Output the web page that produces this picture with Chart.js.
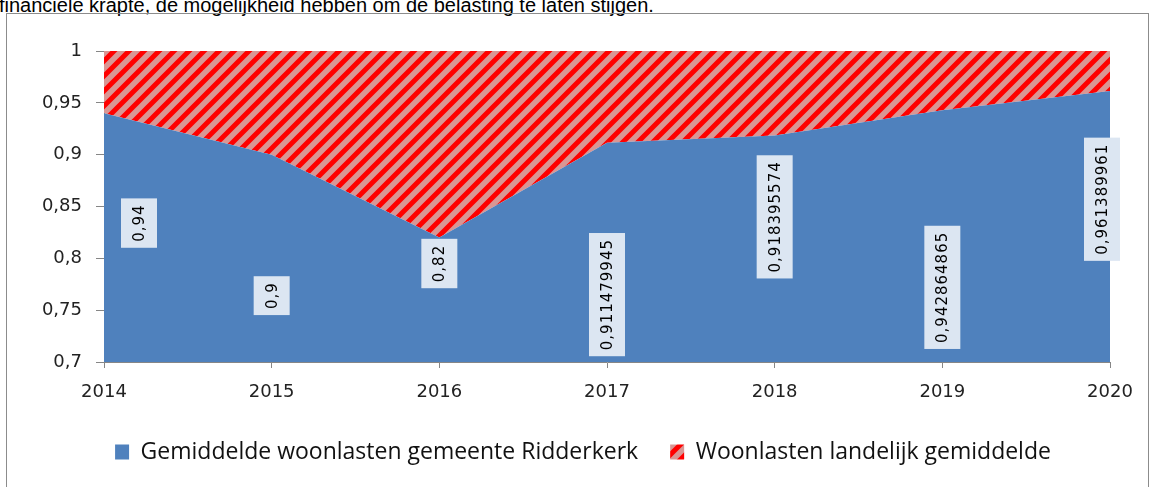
<!DOCTYPE html>
<html>
<head>
<meta charset="utf-8">
<script src="https://cdn.jsdelivr.net/npm/chart.js@4"></script>
<style>
  body { margin: 0; background: #fff; overflow: hidden; }
  #intro { position: absolute; left: -1px; top: -5px; font: 20px "Liberation Sans", Arial, sans-serif; line-height: 20px; white-space: nowrap; color: #000; }
  #frame { position: absolute; left: 6px; top: 13px; width: 1141px; height: 520px; border: 1px solid #8c8c8c; }
  #wrap { position: absolute; left: 0; top: 0; width: 1151px; height: 487px; }
</style>
</head>
<body>
<div id="intro">financiele krapte, de mogelijkheid hebben om de belasting te laten stijgen.</div>
<div id="frame"></div>
<div id="wrap"><canvas id="chart" width="1151" height="487"></canvas></div>
<script>
// data
var years = ['2014', '2015', '2016', '2017', '2018', '2019', '2020'];
var ridderkerk = [0.94, 0.9, 0.82, 0.911479945, 0.918395574, 0.942864865, 0.961389961];
var landelijk = [0.06, 0.1, 0.18, 0.088520055, 0.081604426, 0.057135135, 0.038610039];
var seriesNames = ['Gemiddelde woonlasten gemeente Ridderkerk', 'Woonlasten landelijk gemiddelde'];
var yTicks = [0.7, 0.75, 0.8, 0.85, 0.9, 0.95, 1];

function fmt(v) {
  return String(v).replace('.', ',');
}

// red / pink diagonal hatch
function makeHatch() {
  var s = 15;
  var c = document.createElement('canvas');
  c.width = s; c.height = s;
  var g = c.getContext('2d');
  g.fillStyle = '#d99694';
  g.fillRect(0, 0, s, s);
  g.strokeStyle = '#ff0000';
  g.lineWidth = 5;
  g.beginPath();
  g.moveTo(-2, s + 2); g.lineTo(s + 2, -2);
  g.moveTo(-s / 2 - 2, s / 2 + 2); g.lineTo(s / 2 + 2, -s / 2 - 2);
  g.moveTo(s / 2 - 2, s * 1.5 + 2); g.lineTo(s * 1.5 + 2, s / 2 - 2);
  g.stroke();
  return g.createPattern(c, 'repeat');
}

var ctx = document.getElementById('chart').getContext('2d');
var hatch = makeHatch();

// rotated value boxes like the excel labels
var valueLabels = {
  id: 'valueLabels',
  afterDatasetsDraw: function(chart, args, opts) {
    var meta = chart.getDatasetMeta(0);
    var ys = chart.scales.y;
    var c = chart.ctx;
    c.save();
    c.font = opts.font;
    c.letterSpacing = '1px';
    c.textAlign = 'center';
    c.textBaseline = 'middle';
    meta.data.forEach(function(pt, i) {
      var text = fmt(ridderkerk[i]);
      var len = c.measureText(text).width + 12;
      var cx = pt.x + (opts.shiftX[i] || 0);
      var cy = ys.getPixelForValue(opts.anchor[i]);
      c.save();
      c.translate(cx, cy);
      c.rotate(-Math.PI / 2);
      c.fillStyle = '#dce6f2';
      c.fillRect(-len / 2, -18, len, 36);
      c.fillStyle = '#000';
      c.fillText(text, 0, 1);
      c.restore();
    });
    c.restore();
  }
};

// legend sits centred in the frame, not in the canvas
var legendShift = {
  id: 'legendShift',
  afterLayout: function(chart, args, opts) {
    chart.legend.left += opts.dx;
    chart.legend.right += opts.dx;
  }
};

var chart = new Chart(ctx, {
  type: 'line',
  data: {
    labels: years,
    datasets: [{
      label: seriesNames[0],
      data: ridderkerk,
      backgroundColor: '#4f81bd',
      borderWidth: 0,
      pointRadius: 0,
      fill: 'start',
      tension: 0
    }, {
      label: seriesNames[1],
      data: landelijk,
      backgroundColor: hatch,
      borderWidth: 0,
      pointRadius: 0,
      fill: '-1',
      tension: 0
    }]
  },
  options: {
    responsive: false,
    animation: false,
    layout: { padding: { left: 0, top: 51, right: 41, bottom: 13.5 } },
    scales: {
      x: {
        type: 'category',
        offset: false,
        afterFit: function(s) { s.height = 46.5; },
        grid: { drawOnChartArea: false, tickLength: 6, color: '#868686' },
        border: { color: '#868686' },
        ticks: { padding: 14, color: '#222', font: { family: 'DejaVu Sans', size: 18 }, maxRotation: 0 }
      },
      y: {
        stacked: true,
        min: 0.7,
        max: 1,
        afterFit: function(s) { s.width = 104; },
        afterBuildTicks: function(s) { s.ticks = yTicks.map(function(v) { return { value: v }; }); },
        grid: { drawOnChartArea: false, tickLength: 8, color: '#868686' },
        border: { color: '#868686' },
        ticks: {
          padding: 14,
          color: '#222',
          font: { family: 'DejaVu Sans', size: 18 },
          callback: function(v) { return fmt(parseFloat(v.toFixed(2))); }
        }
      }
    },
    plugins: {
      legend: {
        position: 'bottom',
        labels: {
          boxWidth: 14,
          boxHeight: 15,
          padding: 32,
          color: '#111',
          font: { family: 'Open Sans', size: 23 }
        }
      },
      legendShift: { dx: 28 },
      tooltip: { enabled: false },
      valueLabels: {
        font: '15px "DejaVu Sans"',
        anchor: [0.834, 0.764, 0.795, 0.765, 0.840, 0.772, 0.857],
        shiftX: [35, 0, 0, 0, 0, 0, -8]
      }
    }
  },
  plugins: [valueLabels, legendShift]
});
</script>
</body>
</html>
